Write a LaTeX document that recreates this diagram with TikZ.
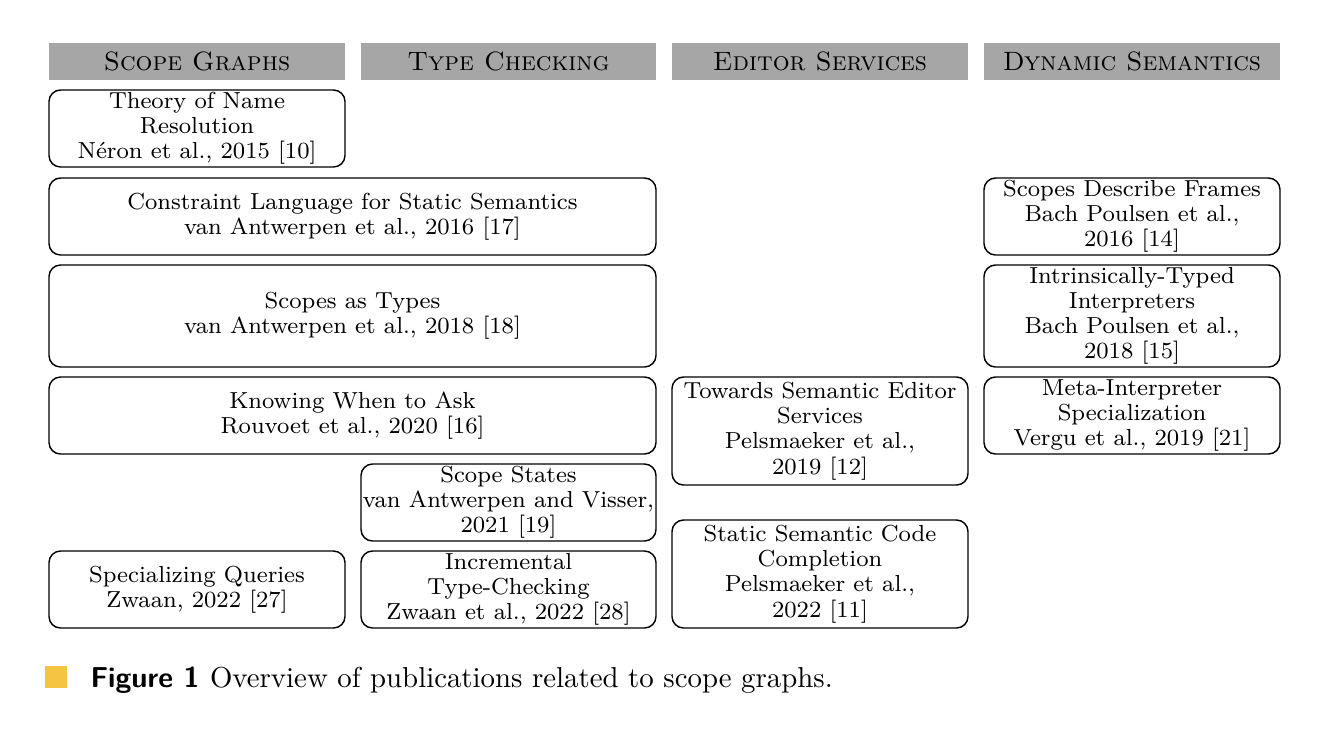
\documentclass[tikz,border=0pt]{standalone}
\usepackage{xcolor}
\definecolor{headgray}{HTML}{A6A6A6}
\definecolor{capyellow}{RGB}{246,196,67}
% one drawing unit = one pixel of the layout grid
\newcommand\unitlen{0.347pt}
% \pubbox{name}{x1}{y1}{x2}{y2}{text}
\newcommand\pubbox[6]{%
  \node[pub, minimum width={(#4-#2)*\unitlen}, minimum height={(#5-#3)*\unitlen}]
    (#1) at ({(#2+#4)/2},{(#3+#5)/2}) {#6};}
% \headbox{name}{x1}{x2}{text}
\newcommand\headbox[4]{%
  \node[head, minimum width={(#3-#2)*\unitlen}, minimum height={37*\unitlen}]
    (#1) at ({(#2+#3)/2},61.5) {#4};}
\begin{document}
\begin{tikzpicture}[x=\unitlen, y=-\unitlen,
  pub/.style={draw, rounded corners=4pt, line width=0.5pt, align=center,
              inner sep=0pt, font=\fontsize{8.05}{8.75}\selectfont},
  head/.style={fill=headgray, inner sep=0pt, text depth=0.4pt,
               font=\fontsize{9.2}{11}\selectfont\scshape}]
\useasboundingbox (0,0) rectangle (1320,748);

% column headers
\headbox{hsg}{49}{345}{Scope Graphs}
\headbox{htc}{361}{656}{Type Checking}
\headbox{hes}{672}{968}{Editor Services}
\headbox{hds}{984}{1280}{Dynamic Semantics}

% scope graphs / type checking
\pubbox{theory}{49}{90}{345}{167}{Theory of Name\\Resolution\\N\'eron et al., 2015 [10]}
\pubbox{constraint}{49}{178}{656}{255}{Constraint Language for Static Semantics\\van Antwerpen et al., 2016 [17]}
\pubbox{sastypes}{49}{265}{656}{367}{Scopes as Types\\van Antwerpen et al., 2018 [18]}
\pubbox{knowing}{49}{377}{656}{454}{Knowing When to Ask\\Rouvoet et al., 2020 [16]}
\pubbox{states}{361}{464}{656}{541}{Scope States\\van Antwerpen and Visser,\\2021 [19]}
\pubbox{queries}{49}{551}{345}{628}{Specializing Queries\\Zwaan, 2022 [27]}
\pubbox{incremental}{361}{551}{656}{628}{Incremental\\Type-Checking\\Zwaan et al., 2022 [28]}

% editor services
\pubbox{editor}{672}{377}{968}{485}{Towards Semantic Editor\\Services\\Pelsmaeker et al.,\\2019 [12]}
\pubbox{completion}{672}{520}{968}{628}{Static Semantic Code\\Completion\\Pelsmaeker et al.,\\2022 [11]}

% dynamic semantics
\pubbox{frames}{984}{178}{1280}{255}{Scopes Describe Frames\\Bach Poulsen et al.,\\2016 [14]}
\pubbox{intrinsic}{984}{265}{1280}{367}{Intrinsically-Typed\\Interpreters\\Bach Poulsen et al.,\\2018 [15]}
\pubbox{meta}{984}{377}{1280}{454}{Meta-Interpreter\\Specialization\\Vergu et al., 2019 [21]}

% caption
\node[fill=capyellow, inner sep=0pt, minimum width={22*\unitlen}, minimum height={22*\unitlen}]
  (capmark) at (56,677) {};
\node[anchor=base west, inner sep=0pt] (caption) at (90,687)
  {\sffamily\bfseries Figure 1\ \rmfamily\mdseries Overview of publications related to scope graphs.};
\end{tikzpicture}
\end{document}
